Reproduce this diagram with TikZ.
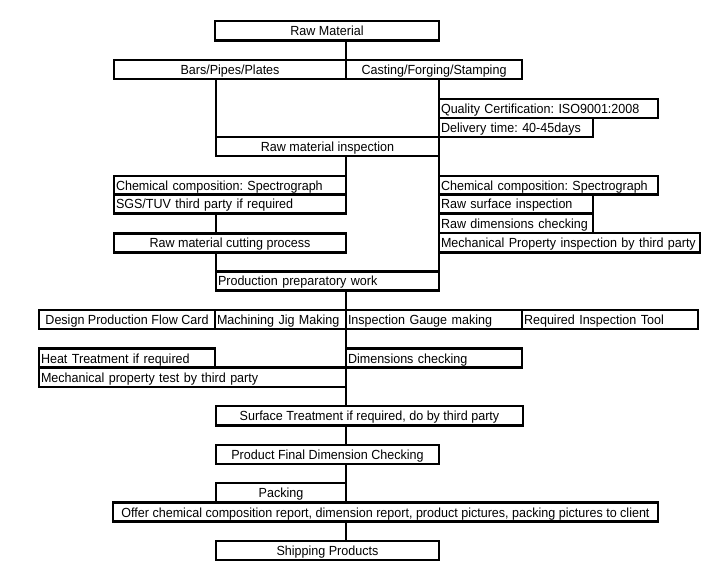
\documentclass[tikz,border=0pt]{standalone}
\usepackage{fontspec}
\setmainfont[FakeStretch=0.95]{Liberation Sans}
\frenchspacing
\begin{document}
\begin{tikzpicture}[x=1pt,y=-1pt,
  cellbox/.style={draw=black,line width=2.2pt,inner sep=2pt,outer sep=0pt,
    font=\fontsize{13.2}{14}\selectfont,text height=10pt,text depth=0pt},
  link/.style={draw=black,line width=2.2pt}]
\useasboundingbox[fill=white] (0,0) rectangle (726,564);
\newcommand\cellC[6]{%
  \pgfmathsetmacro\cw{#4-#2}\pgfmathsetmacro\ch{#5-#3}%
  \node[cellbox,minimum width=\cw pt,minimum height=\ch pt] (#1) at ({(#2+#4)/2},{(#3+#5)/2}) {#6};}
\newcommand\cellL[6]{%
  \pgfmathsetmacro\cw{#4-#2}\pgfmathsetmacro\ch{#5-#3}\pgfmathsetmacro\tw{#4-#2-4}%
  \node[cellbox,minimum width=\cw pt,minimum height=\ch pt,text width=\tw pt,align=left] (#1) at ({(#2+#4)/2},{(#3+#5)/2}) {\mbox{#6}};}
% nodes
\cellC{raw}{215}{21}{439}{40.5}{Raw Material}
\cellC{bars}{114}{60}{346}{79}{Bars/Pipes/Plates}
\cellC{cast}{346}{60}{522}{79}{Casting/Forging/Stamping}
\cellL{qc}{439}{99}{658}{118}{Quality Certification: ISO9001:2008}
\cellL{del}{439}{118}{593}{137}{Delivery time: 40-45days}
\cellC{rmi}{216}{137}{439}{156}{Raw material inspection}
\cellL{chemL}{114}{176}{346}{194.5}{Chemical composition: Spectrograph}
\cellL{sgs}{114}{194.5}{346}{213.5}{SGS/TUV third party if required}
\cellC{cut}{114}{233.5}{346}{252.5}{Raw material cutting process}
\cellL{chemR}{439}{176}{658}{194.5}{Chemical composition: Spectrograph}
\cellL{rsurf}{439}{194.5}{593}{213.5}{Raw surface inspection}
\cellL{rdim}{439}{213.5}{593}{233}{Raw dimensions checking}
\cellL{mech}{439}{233}{700}{252.5}{Mechanical Property inspection by third party}
\cellL{prep}{216}{271.5}{439}{290.5}{Production preparatory work}
\cellC{design}{39}{310}{215}{329}{Design Production Flow Card}
\cellL{mach}{215}{310}{346}{329}{Machining Jig Making}
\cellL{gauge}{346}{310}{522}{329}{Inspection Gauge making}
\cellL{tool}{522}{310}{698}{329}{Required Inspection Tool}
\cellL{heat}{39}{348.5}{215}{367.5}{Heat Treatment if required}
\cellL{dims}{346}{348.5}{522}{367.5}{Dimensions checking}
\cellL{mpt}{39}{367.5}{346}{387}{Mechanical property test by third party}
\cellC{surf}{216}{406}{523}{425.5}{Surface Treatment if required, do by third party}
\cellC{final}{216}{445}{439}{464}{Product Final Dimension Checking}
\cellC{pack}{216}{483}{346}{502.5}{Packing}
\cellC{offer}{113}{502.5}{658}{521.5}{Offer chemical composition report, dimension report, product pictures, packing pictures to client}
\cellC{ship}{216}{541}{439}{560}{Shipping Products}
% connectors
\draw[link] (bars.north east |- raw.south) -- (bars.north east);
\draw[link] (rmi.north west |- bars.south) -- (rmi.north west);
\draw[link] (qc.north west |- cast.south) -- (prep.north east);
\draw[link] (chemL.north east |- rmi.south) -- (chemL.north east);
\draw[link] (prep.north west |- sgs.south) -- (prep.north west |- cut.north);
\draw[link] (prep.north west |- cut.south) -- (prep.north west);
\draw[link] (mach.north east |- prep.south) -- (mach.north east);
\draw[link] (mach.south east) -- (dims.north west);
\draw[link] (mpt.south east) -- (mpt.south east |- surf.north);
\draw[link] (pack.north east |- surf.south) -- (pack.north east |- final.north);
\draw[link] (pack.north east |- final.south) -- (pack.north east);
\draw[link] (pack.north east |- offer.south) -- (pack.north east |- ship.north);
\end{tikzpicture}
\end{document}
